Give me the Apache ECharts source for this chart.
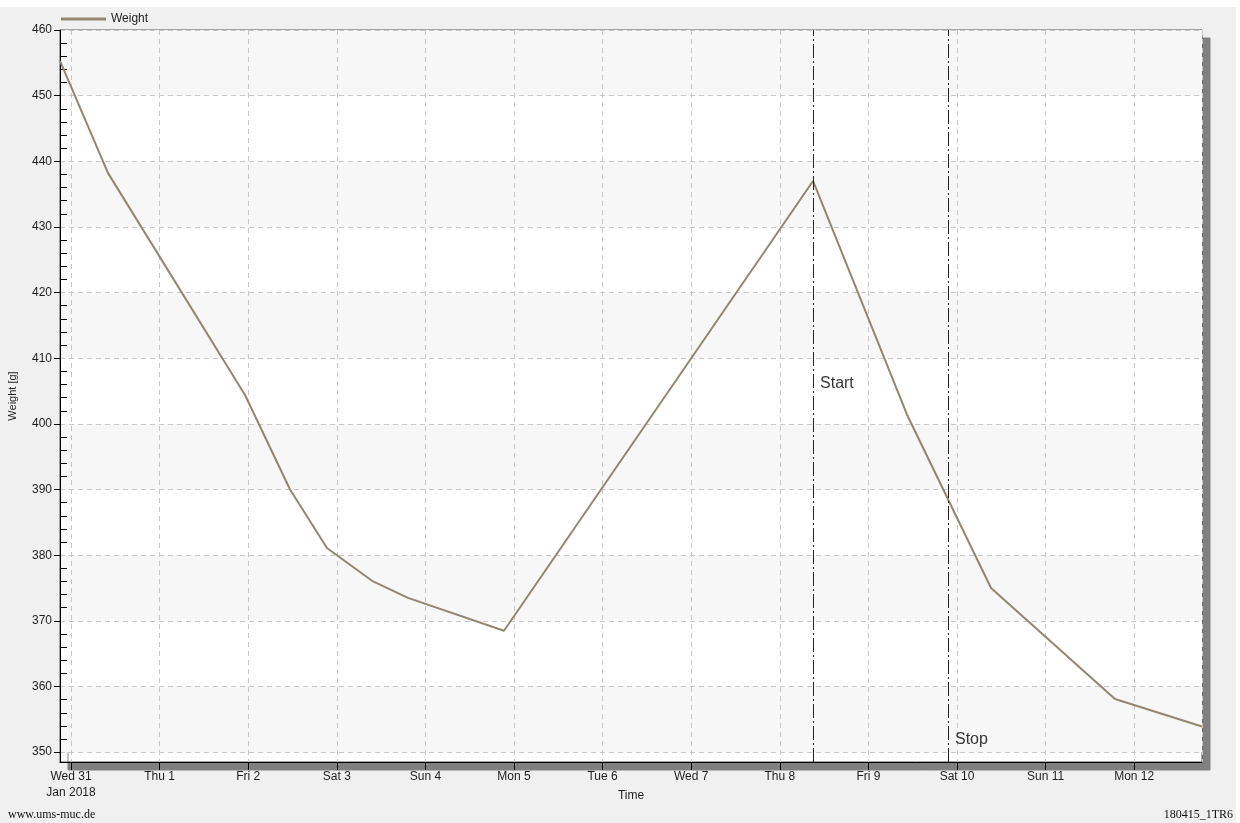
<!DOCTYPE html>
<html>
<head>
<meta charset="utf-8">
<script src="https://cdn.jsdelivr.net/npm/echarts@6/dist/echarts.min.js"></script>
<style>
  html, body { margin: 0; padding: 0; background: #ffffff; }
  #chart { position: absolute; left: 0; top: 7px; width: 1236px; height: 816px; }
</style>
</head>
<body>
<div id="chart"></div>
<script>
// ---- data ----
const times = [
  '2018-01-30 21:01', '2018-01-31 10:02', '2018-02-01 23:08', '2018-02-02 11:20',
  '2018-02-02 21:20', '2018-02-03 09:32', '2018-02-03 19:17', '2018-02-04 21:17',
  '2018-02-08 09:00', '2018-02-09 10:28', '2018-02-10 09:13', '2018-02-11 18:48',
  '2018-02-12 18:22'
];
const weights = [455.3, 438.2, 404.4, 390.0, 381.1, 376.1, 373.5, 368.5, 437.0, 401.4, 375.0, 358.1, 353.9];

const markerTimes = ['2018-02-08 09:00', '2018-02-09 21:33'];
const markerNames = ['Start', 'Stop'];
const markerLabelY = [406.1, 351.9];

const yTicks = [350, 360, 370, 380, 390, 400, 410, 420, 430, 440, 450, 460];
const dayNames = ['Sun', 'Mon', 'Tue', 'Wed', 'Thu', 'Fri', 'Sat'];
const xMin = '2018-01-30 21:01';
const xMax = '2018-02-12 18:22';
const yMin = 348.5, yMax = 460;

const yMinorTicks = [];
for (let v = 352; v < 460; v += 2) { if (v % 10 !== 0) yMinorTicks.push(v); }

const lineColor = '#938671';
const txt = '#1e1e1e';
const font = 'Liberation Sans, Arial, sans-serif';

const chart = echarts.init(document.getElementById('chart'), null, { renderer: 'canvas' });

const option = {
  animation: false,
  backgroundColor: '#f0f0f0',
  textStyle: { fontFamily: font },
  legend: {
    left: 56, top: 1,
    icon: 'rect', itemWidth: 45, itemHeight: 3, itemGap: 8,
    textStyle: { fontSize: 12, color: txt, fontFamily: font },
    data: ['Weight']
  },
  grid: {
    left: 60, top: 23, right: 34, bottom: 61,
    containLabel: false, outerBoundsMode: 'none',
    show: true, backgroundColor: '#ffffff',
    borderColor: '#555555', borderWidth: 1,
    shadowColor: '#808080', shadowBlur: 0, shadowOffsetX: 8, shadowOffsetY: 8
  },
  xAxis: {
    type: 'time',
    min: xMin, max: xMax,
    minInterval: 86400000, maxInterval: 86400000,
    name: 'Time', nameLocation: 'middle', nameGap: 28, nameMoveOverlap: false,
    nameTextStyle: { fontSize: 12, color: txt, fontFamily: font },
    axisLine: { show: true, lineStyle: { color: '#000', width: 1 } },
    axisTick: { show: true, length: 8, lineStyle: { color: '#000' } },
    axisLabel: {
      show: true, fontSize: 12, lineHeight: 16, color: txt, margin: 7, fontFamily: font,
      showMinLabel: false, showMaxLabel: false, hideOverlap: false,
      formatter: function (val) {
        const d = new Date(val);
        const s = dayNames[d.getDay()] + ' ' + d.getDate();
        if (d.getMonth() === 0 && d.getDate() === 31) return s + '\nJan 2018';
        return s;
      }
    },
    splitLine: { show: true, lineStyle: { color: '#c8c8c8', type: [5, 4], width: 1 } }
  },
  yAxis: [
    {
      type: 'value', min: yMin, max: yMax, interval: 10,
      name: 'Weight [g]', nameLocation: 'middle', nameGap: 42, nameMoveOverlap: false,
      nameTextStyle: { fontSize: 11, color: txt, fontFamily: font },
      axisLine: { show: true, lineStyle: { color: '#000', width: 1 } },
      axisTick: { show: true, length: 6, customValues: yTicks, lineStyle: { color: '#000' } },
      axisLabel: {
        show: true, fontSize: 12, color: txt, margin: 8, customValues: yTicks,
        formatter: function (v) { return (v % 10 === 0) ? String(v) : ''; }
      },
      splitLine: { show: true, lineStyle: { color: '#c8c8c8', type: [5, 4], width: 1 } },
      splitArea: { show: true, areaStyle: { color: ['#f7f7f7', '#ffffff'] } }
    },
    {
      type: 'value', min: yMin, max: yMax, position: 'left', offset: 0,
      axisLine: { show: false },
      axisTick: { show: true, inside: true, length: 7, customValues: yMinorTicks, lineStyle: { color: '#000' } },
      axisLabel: { show: false },
      splitLine: { show: false }
    }
  ],
  series: [
    {
      name: 'Weight', type: 'line',
      data: times.map((t, i) => [t, weights[i]]),
      showSymbol: false, symbol: 'none',
      lineStyle: { color: lineColor, width: 2 },
      itemStyle: { color: lineColor },
      markLine: {
        silent: true, symbol: 'none',
        label: { show: false },
        lineStyle: { color: '#222', width: 1, type: [14, 3, 2, 3] },
        emphasis: { disabled: true },
        data: markerTimes.map(t => ({ xAxis: t }))
      },
      z: 3
    },
    {
      name: 'markers', type: 'scatter',
      symbolSize: 0, silent: true,
      data: markerTimes.map((t, i) => ({ value: [t, markerLabelY[i]], name: markerNames[i] })),
      label: {
        show: true, position: 'right', distance: 7,
        formatter: p => p.name, fontSize: 16, color: '#000', fontFamily: font
      },
      emphasis: { disabled: true },
      z: 4
    }
  ],
  graphic: [
    { type: 'text', left: 8, top: 802,
      style: { text: 'www.ums-muc.de', fontSize: 12, fill: '#111', fontFamily: 'Liberation Serif, Times New Roman, serif' } },
    { type: 'text', right: 3, top: 802,
      style: { text: '180415_1TR6', fontSize: 12, fill: '#111', fontFamily: 'Liberation Serif, Times New Roman, serif' } }
  ]
};

chart.setOption(option);
</script>
</body>
</html>
